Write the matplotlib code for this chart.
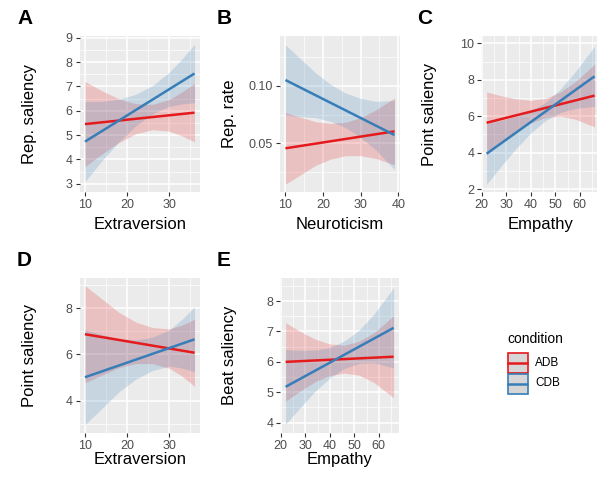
"""
Personality traits vs. gesture measures, split by condition (ADB / CDB).
Linear fits with confidence ribbons, ggplot-like look.
"""

import matplotlib
matplotlib.use("Agg")
import matplotlib.pyplot as plt
from matplotlib.patches import Rectangle
from matplotlib.ticker import MultipleLocator

plt.rcParams["font.family"] = ["Liberation Sans", "DejaVu Sans"]

RED = "#E41A1C"
BLUE = "#377EB8"
BG = "#EBEBEB"

# ---- data ---------------------------------------------------------------
# A: Extraversion vs Rep. saliency
a_x = [10, 14, 18, 22, 26, 30, 33, 36]
a_adb_fit = [5.45, 5.92]
a_adb_lo = [3.70, 4.22, 4.69, 5.05, 5.22, 5.16, 4.97, 4.72]
a_adb_hi = [7.20, 6.82, 6.49, 6.29, 6.26, 6.46, 6.77, 7.12]
a_cdb_fit = [4.73, 7.53]
a_cdb_lo = [3.08, 3.94, 4.71, 5.37, 5.87, 6.18, 6.28, 6.33]
a_cdb_hi = [6.38, 6.38, 6.47, 6.67, 7.03, 7.58, 8.12, 8.73]

# B: Neuroticism vs Rep. rate
b_x = [10, 14, 18, 22, 26, 30, 34, 39]
b_adb_fit = [0.0457, 0.0604]
b_adb_lo = [0.0147, 0.0227, 0.0308, 0.0363, 0.0393, 0.0393, 0.0369, 0.0314]
b_adb_hi = [0.0767, 0.0727, 0.0688, 0.0673, 0.0683, 0.0723, 0.0789, 0.0894]
b_cdb_fit = [0.1049, 0.0572]
b_cdb_lo = [0.0744, 0.0733, 0.0722, 0.0691, 0.0636, 0.0550, 0.0444, 0.0272]
b_cdb_hi = [0.1354, 0.1233, 0.1112, 0.1011, 0.0936, 0.0890, 0.0864, 0.0872]

# C: Empathy vs Point saliency
c_x = [22, 28, 34, 40, 46, 52, 58, 66]
c_adb_fit = [5.64, 7.13]
c_adb_lo = [3.95, 4.56, 5.15, 5.63, 5.93, 6.00, 5.84, 5.41]
c_adb_hi = [7.33, 7.12, 6.95, 6.87, 6.97, 7.32, 7.88, 8.85]
c_cdb_fit = [3.94, 8.19]
c_cdb_lo = [2.27, 3.27, 4.22, 5.08, 5.76, 6.20, 6.42, 6.54]
c_cdb_hi = [5.61, 5.77, 5.98, 6.28, 6.76, 7.48, 8.42, 9.84]

# D: Extraversion vs Point saliency
d_x = [10, 14, 18, 22, 26, 30, 33, 36]
d_adb_fit = [6.87, 6.07]
d_adb_lo = [4.77, 5.10, 5.42, 5.60, 5.60, 5.40, 5.06, 4.62]
d_adb_hi = [8.97, 8.40, 7.82, 7.40, 7.16, 7.10, 7.26, 7.52]
d_cdb_fit = [5.01, 6.65]
d_cdb_lo = [2.96, 3.66, 4.37, 4.92, 5.30, 5.49, 5.41, 5.25]
d_cdb_hi = [7.06, 6.86, 6.67, 6.62, 6.74, 7.05, 7.51, 8.05]

# E: Empathy vs Beat saliency
e_x = [22, 28, 34, 40, 46, 52, 58, 66]
e_adb_fit = [6.00, 6.17]
e_adb_lo = [4.71, 5.04, 5.35, 5.55, 5.63, 5.56, 5.32, 4.82]
e_adb_hi = [7.29, 7.00, 6.75, 6.59, 6.55, 6.68, 6.96, 7.52]
e_cdb_fit = [5.18, 7.12]
e_cdb_lo = [3.95, 4.50, 5.03, 5.47, 5.79, 5.95, 5.97, 5.80]
e_cdb_hi = [6.41, 6.38, 6.39, 6.47, 6.69, 7.05, 7.57, 8.44]

CONDITIONS = ["ADB", "CDB"]

W, H = 597, 479
fig = plt.figure(figsize=(W / 100, H / 100), dpi=100)


def px_axes(left, top, right, bottom):
    return fig.add_axes([left / W, 1 - bottom / H, (right - left) / W, (bottom - top) / H])


def panel(box, x, adb, cdb, xlim, ylim, xmaj, xmin, ymaj, ymin, xlabel, ylabel,
          ylab_px, xlab_gap, letter, letter_xy):
    ax = px_axes(*box)
    ax.set_facecolor(BG)
    for (fit, lo, hi), col in zip([adb, cdb], [RED, BLUE]):
        ax.fill_between(x, lo, hi, color=col, alpha=0.2, lw=0, zorder=2)
        ax.plot([x[0], x[-1]], fit, color=col, lw=1.8, zorder=3, solid_capstyle="butt")
    ax.set_xlim(*xlim)
    ax.set_ylim(*ylim)
    ax.xaxis.set_major_locator(MultipleLocator(xmaj))
    ax.xaxis.set_minor_locator(MultipleLocator(xmin))
    ax.yaxis.set_major_locator(MultipleLocator(ymaj))
    ax.yaxis.set_minor_locator(MultipleLocator(ymin))
    ax.grid(which="major", color="white", lw=1.1)
    ax.grid(which="minor", color="white", lw=0.5)
    ax.set_axisbelow(True)
    for s in ax.spines.values():
        s.set_visible(False)
    ax.tick_params(which="major", length=3, width=0.8, color="#333333",
                   labelcolor="#4D4D4D", labelsize=9, pad=2)
    ax.tick_params(which="minor", length=0)
    ax.set_xlabel(xlabel, fontsize=12)
    ax.set_ylabel(ylabel, fontsize=12)
    left, top, right, bottom = box
    ax.yaxis.set_label_coords((ylab_px - left) / (right - left), 0.5)
    ax.xaxis.set_label_coords(0.5, -xlab_gap / (bottom - top))
    fig.text(letter_xy[0] / W, 1 - letter_xy[1] / H, letter, fontsize=15,
             fontweight="bold", ha="left", va="top")
    return ax


panel((79.5, 36, 200, 192), a_x, (a_adb_fit, a_adb_lo, a_adb_hi),
      (a_cdb_fit, a_cdb_lo, a_cdb_hi), (8.7, 37.3), (2.66, 9.07),
      10, 5, 1, 0.5, "Extraversion", "Rep. saliency", 37, 25, "A", (17, 9))

ax_b = panel((280, 36, 400, 192), b_x, (b_adb_fit, b_adb_lo, b_adb_hi),
             (b_cdb_fit, b_cdb_lo, b_cdb_hi), (8.55, 40.45), (0.0078, 0.1431),
             10, 5, 0.05, 0.025, "Neuroticism", "Rep. rate", 237, 25, "B", (217, 9))
ax_b.yaxis.set_major_formatter(lambda v, p: f"{v:.2f}")

panel((481.2, 36, 600, 192), c_x, (c_adb_fit, c_adb_lo, c_adb_hi),
      (c_cdb_fit, c_cdb_lo, c_cdb_hi), (19.8, 68.2), (1.84, 10.4),
      10, 5, 2, 1, "Empathy", "Point saliency", 437, 25, "C", (417, 9))

panel((79.5, 278, 200, 433), d_x, (d_adb_fit, d_adb_lo, d_adb_hi),
      (d_cdb_fit, d_cdb_lo, d_cdb_hi), (8.7, 37.3), (2.6, 9.3),
      10, 5, 2, 1, "Extraversion", "Point saliency", 37, 19, "D", (17, 251))

panel((280.2, 278, 399, 433), e_x, (e_adb_fit, e_adb_lo, e_adb_hi),
      (e_cdb_fit, e_cdb_lo, e_cdb_hi), (19.8, 68.2), (3.66, 8.76),
      10, 5, 1, 0.5, "Empathy", "Beat saliency", 237, 19, "E", (217, 251))

# legend drawn by hand in pixel space so the keys match ggplot's boxes
lax = fig.add_axes([0, 0, 1, 1])
lax.set_xlim(0, W)
lax.set_ylim(H, 0)
lax.axis("off")
lax.text(507, 343, "condition", fontsize=10, ha="left", va="baseline")
for i, (name, col) in enumerate(zip(CONDITIONS, [RED, BLUE])):
    y0 = 352 + i * 21
    lax.add_patch(Rectangle((507.5, y0 + 0.5), 20, 20, facecolor="#D6D6D6",
                            edgecolor=col, lw=1.2))
    lax.plot([508, 527], [y0 + 10.5, y0 + 10.5], color=col, lw=1.8)
    lax.text(535, y0 + 10.5, name, fontsize=8.5, ha="left", va="center")

fig.savefig("out.png", dpi=100)
